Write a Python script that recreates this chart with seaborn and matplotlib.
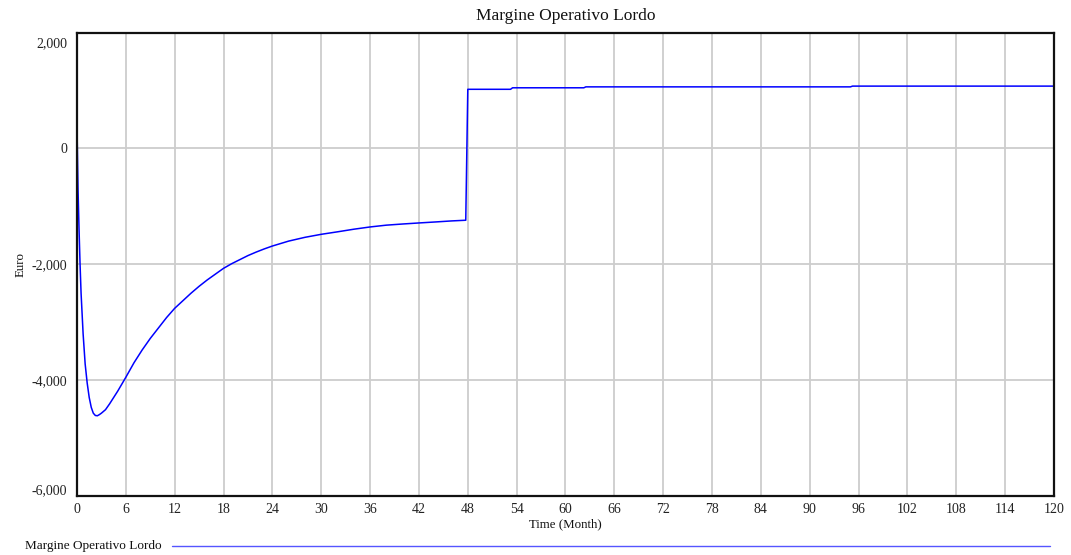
import matplotlib
matplotlib.use("Agg")
import matplotlib.pyplot as plt
import matplotlib.transforms as mtransforms
from matplotlib.lines import Line2D
import seaborn as sns
import pandas as pd

# Simulated monthly series for "Margine Operativo Lordo" (Euro)
time_month = [
    0, 0.125, 0.25, 0.375, 0.5, 0.75, 1.0, 1.25, 1.5, 1.75, 2.0, 2.25, 2.5, 2.75,
    3.0, 3.5, 4.0, 4.5, 5.0, 5.5, 6.0, 7, 8, 9, 10, 11, 12, 13, 14, 15, 16, 17,
    18, 19, 20, 21, 22, 23, 24, 26, 28, 30, 32, 34, 36, 38, 40, 42, 44, 46, 47.75,
    48, 53.25, 53.5, 62.25, 62.5, 95, 95.25, 120,
]
margine = [
    370, -700, -1400, -2000, -2500, -3200, -3720, -4050, -4300, -4470, -4570, -4610, -4615, -4595,
    -4570, -4510, -4410, -4300, -4190, -4070, -3950, -3700, -3480, -3280, -3100, -2920, -2760, -2630, -2500, -2380, -2270, -2170,
    -2070, -1990, -1920, -1850, -1790, -1735, -1685, -1600, -1535, -1483, -1440, -1395, -1356, -1325, -1305, -1287, -1270, -1252, -1240,
    1020, 1020, 1046, 1046, 1062, 1062, 1075, 1075,
]

x_ticks = list(range(0, 121, 6))
y_ticks = [-6000, -4000, -2000, 0, 2000]
y_tick_labels = ["-6,000", "-4,000", "-2,000", "0", "2,000"]

df = pd.DataFrame({"Time (Month)": time_month, "Euro": margine})

sns.set_theme(style="white")
plt.rcParams["font.family"] = ["Liberation Serif", "DejaVu Serif"]

fig = plt.figure(figsize=(10.71, 5.55), dpi=100)
ax = fig.add_axes([0.0719, 0.1063, 0.9122, 0.8351])

sns.lineplot(data=df, x="Time (Month)", y="Euro", ax=ax, color="#0000ff",
             linewidth=1.1, estimator=None, sort=False)

ax.set_xlim(0, 120)
ax.set_ylim(-6000, 2000)
ax.set_xticks(x_ticks)
ax.set_xticklabels([str(t) for t in x_ticks], fontsize=10)
ax.set_yticks(y_ticks)
ax.set_yticklabels(y_tick_labels, fontsize=10)
ax.tick_params(axis="both", length=0, colors="#222222")
ax.tick_params(axis="x", pad=5)
ax.tick_params(axis="y", pad=7)

# Edge labels sit just inside the plot bounds
ylabels = ax.get_yticklabels()
ylabels[-1].set_transform(ylabels[-1].get_transform() +
                          mtransforms.ScaledTranslation(0, -10 / 100, fig.dpi_scale_trans))
ylabels[0].set_transform(ylabels[0].get_transform() +
                         mtransforms.ScaledTranslation(0, 7 / 100, fig.dpi_scale_trans))

ax.grid(True, color="#cdcdcd", linewidth=1.3)
ax.set_axisbelow(True)
for side, spine in ax.spines.items():
    spine.set_visible(True)
    spine.set_color("#111111")
    spine.set_linewidth(1.6)
    spine.set_zorder(5)

ax.set_title("Margine Operativo Lordo", fontsize=12.5, pad=9, color="#111111")
ax.set_xlabel("Time (Month)", fontsize=9.3, labelpad=2, color="#111111")
ax.set_ylabel("Euro", fontsize=9.3, labelpad=4, color="#111111")

# Legend strip along the bottom
fig.text(25 / 1071, 1 - 546.5 / 555, "Margine Operativo Lordo", fontsize=9.5,
         va="center", ha="left", color="#111111")
fig.add_artist(Line2D([172 / 1071, 1050 / 1071], [1 - 546 / 555, 1 - 546 / 555],
                      transform=fig.transFigure, color="#5555ff", linewidth=1.0))

fig.savefig("out.png", dpi=100)
